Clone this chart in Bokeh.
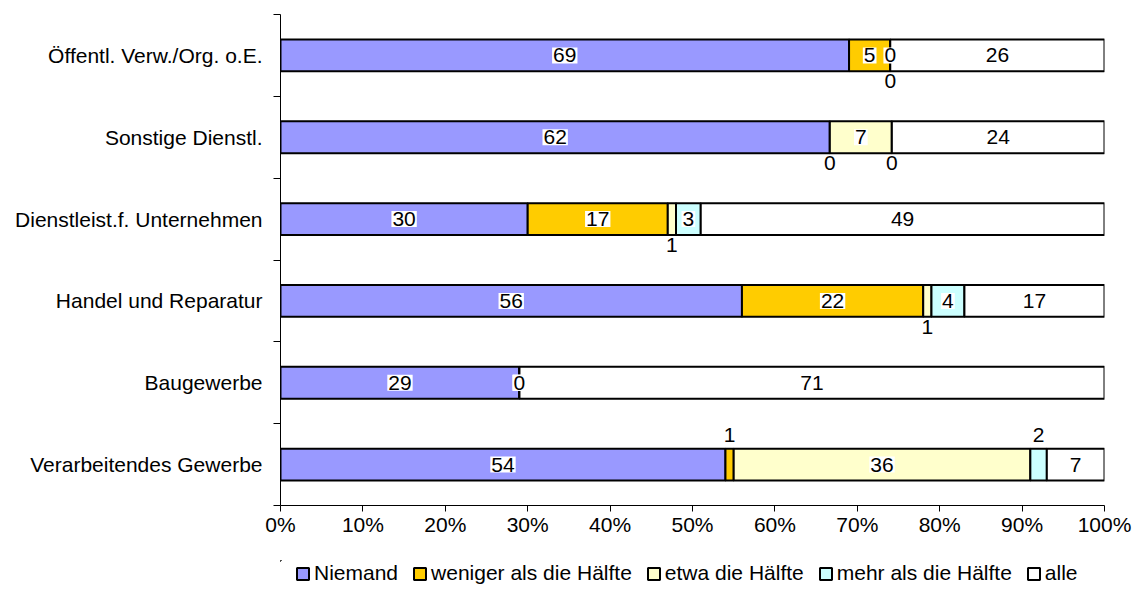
from bokeh.plotting import figure
from bokeh.layouts import column
from bokeh.models import (ColumnDataSource, FixedTicker, NumeralTickFormatter,
                          Legend, LegendItem, Range1d)
from bokeh.core.properties import value
from bokeh.embed import file_html
from bokeh.resources import INLINE

# ---- data (top to bottom as displayed) ----
categories = ["Öffentl. Verw./Org. o.E.", "Sonstige Dienstl.",
              "Dienstleist.f. Unternehmen", "Handel und Reparatur",
              "Baugewerbe", "Verarbeitendes Gewerbe"]
series = ["Niemand", "weniger als die Hälfte", "etwa die Hälfte",
          "mehr als die Hälfte", "alle"]
niemand = [69, 62, 30, 56, 29, 54]
weniger = [5, 0, 17, 22, 0, 1]
etwa = [0, 7, 1, 1, 0, 36]
mehr = [0, 0, 3, 4, 0, 2]
alle = [26, 24, 49, 17, 71, 7]
x_ticks = [0, 0.1, 0.2, 0.3, 0.4, 0.5, 0.6, 0.7, 0.8, 0.9, 1.0]

# ---- styles ----
colors = ["#9999FF", "#FFCC00", "#FFFFCC", "#CCFFFF", "#FFFFFF"]
FONT = "Liberation Sans"
FS = "21px"
# label placement for small segments: (category index, series index) -> side
placement = {(0, 3): "below", (1, 1): "below", (1, 3): "below",
             (2, 2): "below", (3, 2): "below", (5, 1): "above", (5, 3): "above"}
side_offset = {"center": 0, "below": 26, "above": -30}

values = [niemand, weniger, etwa, mehr, alle]
n = len(categories)
ypos = [n - 1 - i + 0.5 for i in range(n)]
totals = [sum(v[i] for v in values) for i in range(n)]

keys = ["s%d" % k for k in range(len(series))]
data = {"y": ypos}
for k, v in zip(keys, values):
    data[k] = [v[i] / totals[i] for i in range(n)]
src = ColumnDataSource(data)

# label positions
lx, ly, lt, ldy = [], [], [], []
for i in range(n):
    cum = 0.0
    for s, v in enumerate(values):
        frac = v[i] / totals[i]
        lx.append(cum + frac / 2)
        ly.append(ypos[i])
        lt.append(str(v[i]))
        ldy.append(side_offset[placement.get((i, s), "center")])
        cum += frac
lsrc = ColumnDataSource(dict(x=lx, y=ly, t=lt, dy=ldy))

p1 = figure(width=1139, height=560, output_backend="svg", toolbar_location=None,
            x_range=Range1d(0, 1), y_range=Range1d(0, n),
            min_border_left=280, min_border_right=35, min_border_top=14,
            min_border_bottom=55)
p1.outline_line_color = None
p1.grid.visible = False

rs = p1.hbar_stack(keys, y="y", height=0.39, color=colors, source=src,
                   line_color="black", line_width=2)

p1.text(x="x", y="y", text="t", source=lsrc, text_font=value(FONT),
        text_font_size=FS, text_align="center", text_baseline="middle",
        y_offset="dy", text_color="black", background_fill_color="white",
        padding=1)

# x axis
xa = p1.xaxis[0]
xa.ticker = FixedTicker(ticks=x_ticks)
xa.formatter = NumeralTickFormatter(format="0%")
xa.major_tick_in = 0
xa.major_tick_out = 6
xa.minor_tick_out = 0
xa.minor_tick_in = 0
xa.axis_line_color = "black"
xa.major_tick_line_color = "black"
xa.major_label_text_font = FONT
xa.major_label_text_font_size = FS
xa.major_label_text_color = "black"
xa.major_label_standoff = 1

# y axis: labels at band centres, ticks at band boundaries
ya = p1.yaxis[0]
ya.ticker = FixedTicker(ticks=ypos, minor_ticks=list(range(n + 1)))
ya.major_label_overrides = {y: c for y, c in zip(ypos, categories)}
ya.major_tick_in = 0
ya.major_tick_out = 0
ya.minor_tick_in = 0
ya.minor_tick_out = 7
ya.minor_tick_line_color = "black"
ya.axis_line_color = "black"
ya.major_label_text_font = FONT
ya.major_label_text_font_size = FS
ya.major_label_text_color = "black"
ya.major_label_standoff = 11

# legend strip below the chart (legend swatches use off-screen proxy bars)
p2 = figure(width=1139, height=43, output_backend="svg", toolbar_location=None,
            x_range=Range1d(0, 1), y_range=Range1d(0, 1),
            x_axis_type=None, y_axis_type=None, min_border=0)
p2.outline_line_color = None
p2.grid.visible = False
dummies = [p2.hbar(y=[1.6], left=[-0.6], right=[-0.5], height=0.1, fill_color=c,
                   line_color="black", line_width=2) for c in colors]
legend = Legend(items=[LegendItem(label=s, renderers=[r]) for s, r in zip(series, dummies)],
                orientation="horizontal", location=(15, 18),
                glyph_width=15, glyph_height=15, label_standoff=4, spacing=14,
                padding=0, margin=0, border_line_alpha=0, background_fill_alpha=0,
                label_text_font=FONT, label_text_font_size=FS, label_height=15,
                label_text_color="black")
p2.add_layout(legend)

p = column(p1, p2, spacing=0)
open("out.html", "w").write(file_html(p, INLINE))
